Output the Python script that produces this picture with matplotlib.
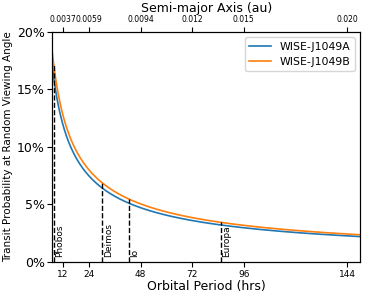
import numpy as np
import matplotlib
matplotlib.use("Agg")
import matplotlib.pyplot as plt
from matplotlib.ticker import FuncFormatter

# brown dwarf parameters (Jupiter units)
names = ["WISE-J1049A", "WISE-J1049B"]
masses_mj = [34.2, 27.9]
radii_rj = [0.98, 0.98]
colors = ["#1f77b4", "#ff7f0e"]

# moons used as reference periods (hrs)
moon_names = ["Phobos", "Deimos", "Io", "Europa"]
moon_periods = [7.65, 30.3, 42.5, 85.2]

period_ticks = [12, 24, 48, 72, 96, 144]
au_tick_labels = ["0.0037", "0.0059", "0.0094", "0.012", "0.015", "0.020"]

MJ_MSUN = 9.546e-4
RJ_AU = 71492.0 / 1.496e8
HRS_PER_YR = 8766.0


def transit_prob(period_hr, m_mj, r_rj):
    p_yr = np.asarray(period_hr) / HRS_PER_YR
    a_au = (m_mj * MJ_MSUN * p_yr ** 2) ** (1 / 3)
    return r_rj * RJ_AU / a_au


periods = np.linspace(7, 150, 600)

fig = plt.figure(figsize=(3.67, 2.98), dpi=100)
ax = fig.add_axes([0.1425, 0.121, 0.8385, 0.772])

for name, m, r, c in zip(names, masses_mj, radii_rj, colors):
    ax.plot(periods, transit_prob(periods, m, r), color=c, lw=1.2, label=name)

for mname, mp in zip(moon_names, moon_periods):
    # dashed marker up to the B curve
    top = transit_prob(mp, masses_mj[1], radii_rj[1])
    ax.vlines(mp, 0, top, colors="k", linestyles="--", lw=1)
    ax.text(mp + 0.8, 0.004, mname, rotation=90, fontsize=6.5,
            ha="left", va="bottom")

ax.set_xlim(7, 150)
ax.set_ylim(0, 0.20)
ax.set_xticks(period_ticks)
ax.tick_params(axis="x", labelsize=6.5, pad=2)
ax.tick_params(axis="y", labelsize=9, pad=2)
ax.set_yticks([0, 0.05, 0.10, 0.15, 0.20])
ax.yaxis.set_major_formatter(FuncFormatter(lambda v, _: f"{v * 100:.0f}%"))
ax.set_xlabel("Orbital Period (hrs)", fontsize=9, labelpad=1)
ax.set_ylabel("Transit Probability at Random Viewing Angle", fontsize=7.5, labelpad=3)
ax.legend(loc="upper right", fontsize=7.8)

ax2 = ax.twiny()
ax2.set_xlim(ax.get_xlim())
ax2.set_xticks(period_ticks)
ax2.set_xticklabels(au_tick_labels)
ax2.tick_params(axis="x", labelsize=5.5, pad=2)
ax2.set_xlabel("Semi-major Axis (au)", fontsize=9, labelpad=2)

fig.savefig("out.png", dpi=100)
